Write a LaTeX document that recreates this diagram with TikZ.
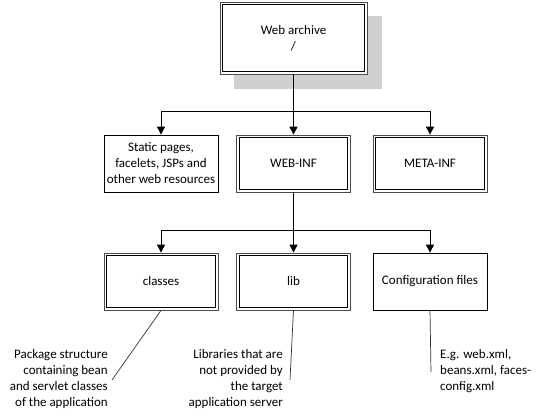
\documentclass[tikz,border=0pt]{standalone}
\usepackage{fontspec}
\setmainfont{Carlito}
\usetikzlibrary{arrows.meta}
\begin{document}
\begin{tikzpicture}[x=1pt,y=-1pt,
  box/.style={draw=black,line width=0.8pt,rectangle,minimum width=114pt,minimum height=57pt,align=center,font=\fontsize{13}{16}\selectfont,inner sep=1pt},
  dbox/.style={box,draw=black!70},
  innerline/.style={draw=black,line width=0.9pt},
  arr/.style={line width=1pt,-{Triangle[width=8pt,length=8pt]}},
  conn/.style={line width=1pt},
  callout/.style={draw=black!80,line width=0.7pt},
  note/.style={font=\fontsize{13}{16}\selectfont,inner sep=0pt}]
\useasboundingbox (0,0) rectangle (537,419);
\fill[black!19] (234,16) rectangle (382,89);
\node[dbox,fill=white,minimum width=147pt,minimum height=72pt] (web) at (293.5,38) {Web archive\\/};
\node[box] (static) at (161,163.5) {Static pages,\\facelets, JSPs and\\other web resources};
\node[dbox] (webinf) at (293.5,163.5) {WEB-INF};
\node[dbox] (metainf) at (430,163.5) {META-INF};
\node[dbox] (classes) at (161,281.5) {classes};
\node[dbox] (lib) at (293.5,281.5) {lib};
\node[box] (config) at (430,281.5) {Configuration files};
\foreach \n in {web,webinf,metainf,classes,lib}
  \draw[innerline] ([shift={(3,3)}]\n.north west) rectangle ([shift={(-3,-3)}]\n.south east);
\coordinate (j1) at (293.5,112);
\coordinate (j2) at (293.5,231);
\draw[arr] (web.south) -- (webinf.north);
\draw[arr] (j1) -| (static.north);
\draw[arr] (j1) -| (metainf.north);
\draw[conn] (webinf.south) -- (j2);
\draw[arr] (j2) -- (lib.north);
\draw[arr] (j2) -| (classes.north);
\draw[arr] (j2) -| (config.north);
\node[note,anchor=north east,align=right] (n1) at (108,349) {Package structure\\containing bean\\and servlet classes\\of the application};
\node[note,anchor=north east,align=right] (n2) at (283,349) {Libraries that are\\not provided by\\the target\\application server};
\node[note,anchor=north west,align=left] (n3) at (440,349) {E.g. web.xml,\\beans.xml, faces-\\config.xml};
\coordinate (e1) at (112,380);
\coordinate (e2) at (290,380);
\coordinate (e3) at (431,372);
\draw[callout] (classes.south) -- (e1);
\draw[callout] (lib.south) -- (e2);
\draw[callout] (config.south) -- (e3);
\end{tikzpicture}
\end{document}
